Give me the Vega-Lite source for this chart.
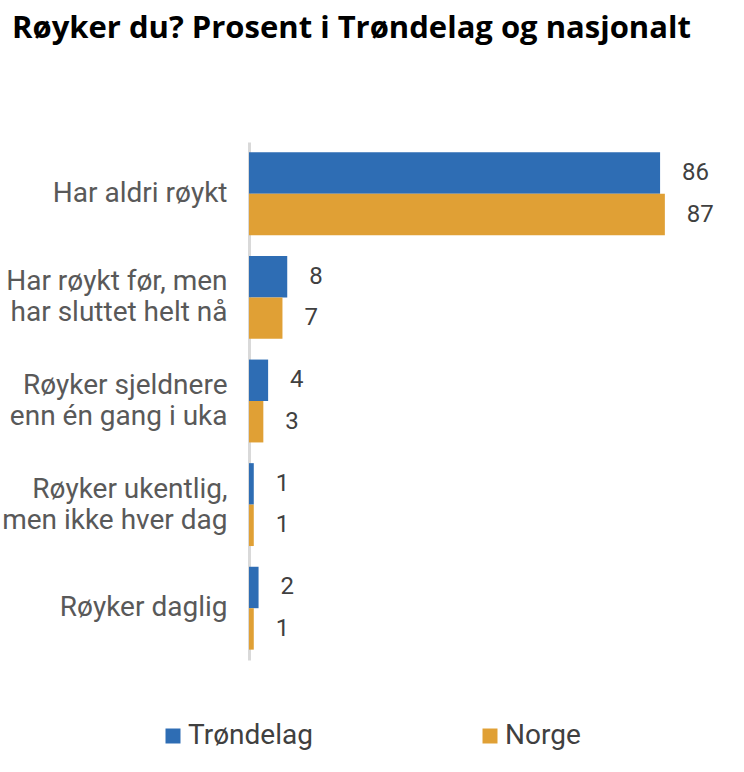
{
  "$schema": "https://vega.github.io/schema/vega-lite/v6.json",
  "autosize": "none",
  "width": 478,
  "height": 518,
  "padding": {"left": 249, "top": 142, "right": 17, "bottom": 112},
  "background": "white",
  "title": {
    "text": "Røyker du? Prosent i Trøndelag og nasjonalt",
    "anchor": "start",
    "frame": "group",
    "dx": -237,
    "offset": 97,
    "font": "Open Sans",
    "fontSize": 31,
    "fontWeight": "bold",
    "color": "#000000"
  },
  "data": {
    "values": [
      {"kategori": "Har aldri røykt", "serie": "Trøndelag", "verdi": 86},
      {"kategori": "Har aldri røykt", "serie": "Norge", "verdi": 87},
      {"kategori": "Har røykt før, men|har sluttet helt nå", "serie": "Trøndelag", "verdi": 8},
      {"kategori": "Har røykt før, men|har sluttet helt nå", "serie": "Norge", "verdi": 7},
      {"kategori": "Røyker sjeldnere|enn én gang i uka", "serie": "Trøndelag", "verdi": 4},
      {"kategori": "Røyker sjeldnere|enn én gang i uka", "serie": "Norge", "verdi": 3},
      {"kategori": "Røyker ukentlig,|men ikke hver dag", "serie": "Trøndelag", "verdi": 1},
      {"kategori": "Røyker ukentlig,|men ikke hver dag", "serie": "Norge", "verdi": 1},
      {"kategori": "Røyker daglig", "serie": "Trøndelag", "verdi": 2},
      {"kategori": "Røyker daglig", "serie": "Norge", "verdi": 1}
    ]
  },
  "encoding": {
    "y": {
      "field": "kategori",
      "type": "nominal",
      "sort": null,
      "scale": {"paddingInner": 0.2, "paddingOuter": 0.1},
      "axis": {
        "title": null,
        "ticks": false,
        "labelExpr": "split(datum.label, '|')",
        "labelFont": "Roboto",
        "labelFontSize": 28,
        "labelColor": "#595959",
        "labelPadding": 22,
        "labelLineHeight": 31,
        "labelOffset": {"condition": {"test": "indexof(datum.value, '|') >= 0", "value": -15}, "value": 0},
        "domainColor": "#d9d9d9",
        "domainWidth": 3,
        "labelLimit": 400
      }
    },
    "yOffset": {"field": "serie", "type": "nominal", "sort": ["Trøndelag", "Norge"]},
    "x": {
      "field": "verdi",
      "type": "quantitative",
      "scale": {"domain": [0, 100]},
      "axis": null
    }
  },
  "layer": [
    {
      "mark": {"type": "bar", "x": 2},
      "encoding": {
        "color": {
          "field": "serie",
          "type": "nominal",
          "sort": ["Trøndelag", "Norge"],
          "scale": {"domain": ["Trøndelag", "Norge"], "range": ["#2E6DB4", "#E0A035"]},
          "legend": {
            "title": null,
            "orient": "none",
            "direction": "horizontal",
            "legendX": -90,
            "legendY": 580,
            "symbolType": "square",
            "symbolSize": 225,
            "symbolStrokeWidth": 0,
            "labelFont": "Roboto",
            "labelFontSize": 28,
            "labelColor": "#404040",
            "labelOffset": 1,
            "columnPadding": 163
          }
        }
      }
    },
    {
      "mark": {"type": "text", "align": "left", "dx": 22, "font": "Roboto", "fontSize": 24, "color": "#404040"},
      "encoding": {
        "text": {"field": "verdi", "type": "quantitative"}
      }
    }
  ],
  "config": {"view": {"stroke": null}}
}
